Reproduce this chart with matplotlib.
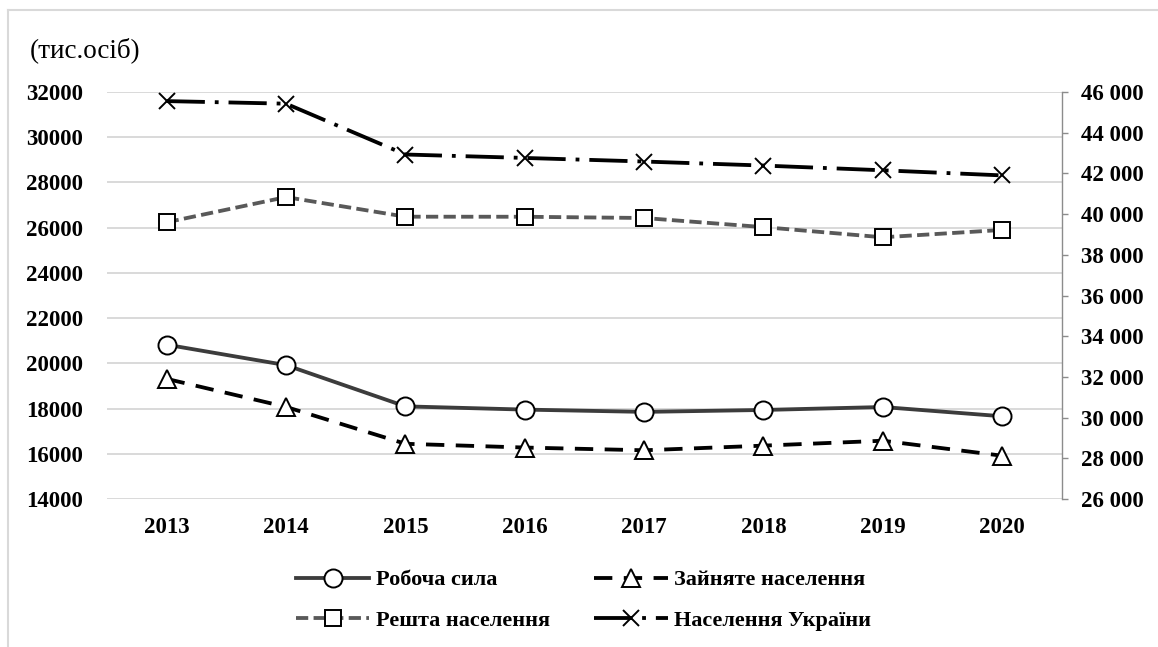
import matplotlib.pyplot as plt
from matplotlib.lines import Line2D
from matplotlib.ticker import FuncFormatter, MultipleLocator

years: list[str] = ['2013', '2014', '2015', '2016', '2017', '2018', '2019', '2020']

# left axis (тис. осіб)
laborForce: list[float] = [20825, 19921, 18098, 17955, 17854, 17939, 18069, 17660]
employed: list[float] = [19314, 18073, 16443, 16277, 16156, 16361, 16578, 15915]
restPopulation: list[float] = [26239, 27353, 26486, 26483, 26428, 26025, 25575, 25900]

# right axis
population: list[float] = [45553, 45426, 42929, 42760, 42584, 42386, 42153, 41902]

labels: list[str] = ['Робоча сила', 'Зайняте населення', 'Решта населення', 'Населення України']

FONT: str = 'Liberation Serif'


def spaceThousands(value: float, pos: int) -> str:
    return f'{int(value):,}'.replace(',', ' ')


def main() -> None:
    fig = plt.figure(figsize=(11.58, 6.47), dpi=100)
    ax = fig.add_axes([0.0924, 0.2287, 0.8246, 0.6291])
    ax2 = ax.twinx()

    x: list[int] = list(range(len(years)))
    markerStyle: dict = dict(markerfacecolor='white', markeredgecolor='black', markeredgewidth=1.4)

    l1, = ax.plot(x, laborForce, color='#3c3c3c', lw=2.75, marker='o', markersize=13,
                  label=labels[0], **markerStyle)
    l2, = ax.plot(x, employed, color='black', lw=2.75, marker='^', markersize=13,
                  label=labels[1], dashes=(4.8, 3.0), **markerStyle)
    l3, = ax.plot(x, restPopulation, color='#595959', lw=2.75, marker='s', markersize=12,
                  label=labels[2], dashes=(3.2, 1.4), **markerStyle)
    l4, = ax2.plot(x, population, color='black', lw=2.75, marker='x', markersize=11,
                   markeredgewidth=1.4, label=labels[3], dashes=(10, 2.6, 1.0, 2.6))

    ax.set_xlim(-0.5, len(years) - 0.5)
    ax.set_ylim(14000, 32000)
    ax.yaxis.set_major_locator(MultipleLocator(2000))
    ax2.set_ylim(26000, 46000)
    ax2.yaxis.set_major_locator(MultipleLocator(2000))
    ax2.yaxis.set_major_formatter(FuncFormatter(spaceThousands))

    ax.set_xticks(x)
    ax.set_xticklabels(years)
    ax.grid(axis='y', color='#d9d9d9', lw=1.4)
    ax.set_axisbelow(True)

    for spine in ['top', 'left', 'right', 'bottom']:
        ax.spines[spine].set_visible(False)
    for spine in ['top', 'left', 'bottom']:
        ax2.spines[spine].set_visible(False)
    ax2.spines['right'].set_color('#8c8c8c')
    ax2.spines['right'].set_linewidth(1.0)

    ax.tick_params(axis='y', length=0, pad=17)
    ax.tick_params(axis='x', length=0, pad=13)
    ax2.tick_params(axis='y', length=4, width=1.0, color='#8c8c8c', pad=10)

    for label in ax.get_xticklabels() + ax.get_yticklabels() + ax2.get_yticklabels():
        label.set_fontfamily(FONT)
        label.set_fontweight('bold')
        label.set_fontsize(16.5)

    fig.text(0.026, 1 - 50 / 647, '(тис.осіб)', family=FONT, fontsize=19.5, va='center')

    fig.legend(
        handles=[l1, l3, l2, l4],
        labels=[labels[0], labels[2], labels[1], labels[3]],
        ncol=2,
        loc='center',
        bbox_to_anchor=(0.504, 0.072),
        frameon=False,
        numpoints=1,
        handlelength=3.3,
        handletextpad=0.3,
        columnspacing=2.0,
        labelspacing=0.9,
        prop=dict(family=FONT, weight='bold', size=16),
    )

    # light frame around the chart
    fig.add_artist(Line2D([8 / 1158, 1], [1 - 10 / 647, 1 - 10 / 647], color='#d9d9d9', lw=1.5))
    fig.add_artist(Line2D([8 / 1158, 8 / 1158], [0, 1 - 10 / 647], color='#d9d9d9', lw=1.5))

    fig.savefig('out.png', dpi=100)


if __name__ == '__main__':
    main()
